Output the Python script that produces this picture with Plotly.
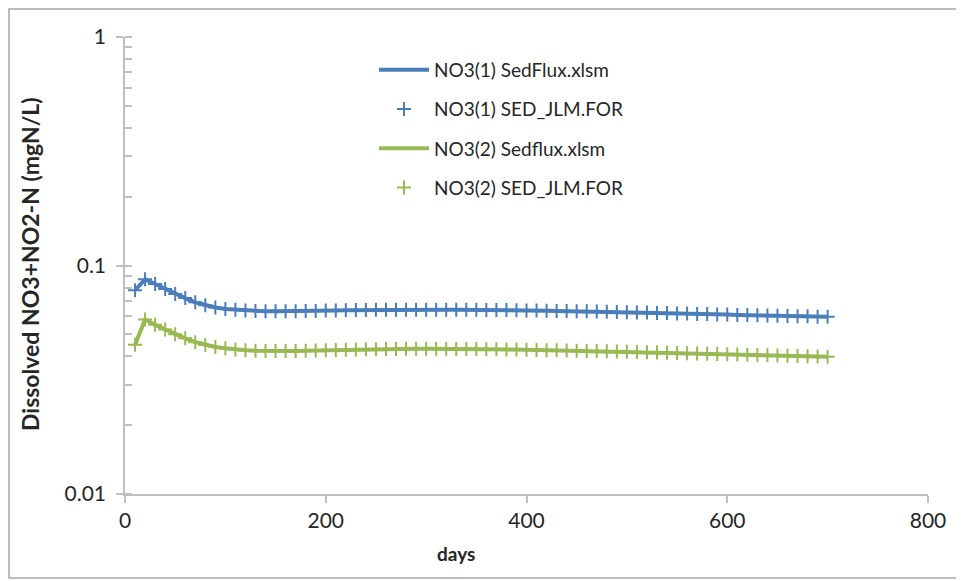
import plotly.graph_objects as go

days = [10, 20, 30, 40, 50, 60, 70, 80, 90, 100, 110, 120, 130, 140, 150, 160, 170, 180, 190, 200,
        210, 220, 230, 240, 250, 260, 270, 280, 290, 300, 310, 320, 330, 340, 350, 360, 370, 380, 390, 400,
        410, 420, 430, 440, 450, 460, 470, 480, 490, 500, 510, 520, 530, 540, 550, 560, 570, 580, 590, 600,
        610, 620, 630, 640, 650, 660, 670, 680, 690, 700]

no3_1 = [0.078, 0.087, 0.083, 0.079, 0.075, 0.072, 0.069, 0.067, 0.0655, 0.0645, 0.064, 0.0635, 0.0632, 0.063,
         0.063, 0.063, 0.063, 0.0632, 0.0633, 0.0635, 0.0636, 0.0637, 0.0638, 0.0639, 0.064, 0.064, 0.0641,
         0.0641, 0.0641, 0.0641, 0.0641, 0.0641, 0.064, 0.064, 0.064, 0.0639, 0.0638, 0.0638, 0.0637, 0.0636,
         0.0635, 0.0634, 0.0633, 0.0632, 0.0631, 0.063, 0.0629, 0.0628, 0.0626, 0.0625, 0.0623, 0.0622, 0.062,
         0.0619, 0.0617, 0.0616, 0.0614, 0.0613, 0.0611, 0.061, 0.0608, 0.0607, 0.0605, 0.0604, 0.0603, 0.0601,
         0.06, 0.0599, 0.0597, 0.0596]

no3_2 = [0.045, 0.058, 0.055, 0.0525, 0.050, 0.048, 0.0462, 0.0449, 0.0440, 0.0434, 0.0429, 0.0426, 0.0424,
         0.0423, 0.0423, 0.0423, 0.0423, 0.0424, 0.0425, 0.0426, 0.0427, 0.0428, 0.0429, 0.043, 0.043, 0.0431,
         0.0431, 0.0432, 0.0432, 0.0432, 0.0432, 0.0432, 0.0431, 0.0431, 0.0431, 0.043, 0.043, 0.0429, 0.0429,
         0.0428, 0.0427, 0.0426, 0.0426, 0.0425, 0.0424, 0.0423, 0.0422, 0.0421, 0.042, 0.0419, 0.0418, 0.0417,
         0.0416, 0.0415, 0.0414, 0.0413, 0.0412, 0.0411, 0.041, 0.0409, 0.0408, 0.0407, 0.0406, 0.0405, 0.0404,
         0.0403, 0.0402, 0.0401, 0.04, 0.0399]

names = ["NO3(1) SedFlux.xlsm", "NO3(1) SED_JLM.FOR", "NO3(2) Sedflux.xlsm", "NO3(2) SED_JLM.FOR"]
x_ticks = [0, 200, 400, 600, 800]
y_ticks = [0.01, 0.1, 1]
y_tick_labels = ["0.01", "0.1", "1"]

BLUE = "#4a7ebb"
GREEN = "#98b954"
FONT = "Lato"
TXT = "#262626"
AX = "#bfbfbf"

# page body has an 8px default margin; target positions below are screen pixels
OFF = 8
L, R, T, B = 125, 928, 37, 494   # plot area on screen
W, H = 964, 581

def px(xs):
    return (xs - L) / (R - L)

def py(ys):
    return (B - ys) / (B - T)

fig = go.Figure()
fig.add_trace(go.Scatter(x=days, y=no3_1, mode="lines", name=names[0], legendgroup="a",
                         line=dict(color=BLUE, width=4)))
fig.add_trace(go.Scatter(x=days, y=no3_1, mode="markers", name=names[1], legendgroup="b",
                         marker=dict(symbol="cross-thin", size=10, line=dict(color=BLUE, width=2))))
fig.add_trace(go.Scatter(x=days, y=no3_2, mode="lines", name=names[2], legendgroup="c",
                         line=dict(color=GREEN, width=4)))
fig.add_trace(go.Scatter(x=days, y=no3_2, mode="markers", name=names[3], legendgroup="d",
                         marker=dict(symbol="cross-thin", size=10, line=dict(color=GREEN, width=2))))

fig.update_layout(
    width=W, height=H,
    margin=dict(l=L - OFF, r=W - (R - OFF), t=T - OFF, b=H - (B - OFF)),
    paper_bgcolor="white", plot_bgcolor="white",
    font=dict(family=FONT, color=TXT),
    showlegend=True,
    legend=dict(x=px(374), y=py(51), xanchor="left", yanchor="top", bgcolor="rgba(0,0,0,0)",
                font=dict(size=19, family=FONT, color=TXT), tracegroupgap=11.5,
                traceorder="grouped", itemwidth=50),
    xaxis=dict(range=[0, 800], tickvals=x_ticks, ticktext=[str(v) for v in x_ticks],
               showgrid=False, zeroline=False, showline=True, linecolor=AX, linewidth=1.5,
               ticks="outside", ticklen=7, tickcolor=AX, tickwidth=1.5,
               tickfont=dict(size=21, family=FONT, color=TXT)),
    yaxis=dict(type="log", range=[-2, 0], tickvals=y_ticks, ticktext=y_tick_labels,
               showgrid=False, zeroline=False, showline=True, linecolor=AX, linewidth=1.5,
               ticks="outside", ticklen=7, tickcolor=AX, tickwidth=1.5, ticklabelstandoff=6,
               tickfont=dict(size=21, family=FONT, color=TXT),
               minor=dict(ticks="inside", ticklen=7, tickcolor=AX, tickwidth=1.5, dtick="D1",
                          showgrid=False)),
    shapes=[dict(type="rect", xref="paper", yref="paper",
                 x0=px(9), x1=px(961), y0=py(578), y1=py(9),
                 line=dict(color="#a6a6a6", width=1.5), fillcolor="rgba(0,0,0,0)", layer="below")],
    annotations=[
        dict(text="<b>days</b>", xref="paper", yref="paper", x=px(456), y=py(553),
             xanchor="center", yanchor="middle", showarrow=False, font=dict(size=19, family=FONT, color=TXT)),
        dict(text="<b>Dissolved NO3+NO2-N (mgN/L)</b>", xref="paper", yref="paper",
             x=px(30), y=py(264), textangle=-90,
             xanchor="center", yanchor="middle", showarrow=False, font=dict(size=23, family=FONT, color=TXT)),
    ],
)

fig.write_html("out.html")
